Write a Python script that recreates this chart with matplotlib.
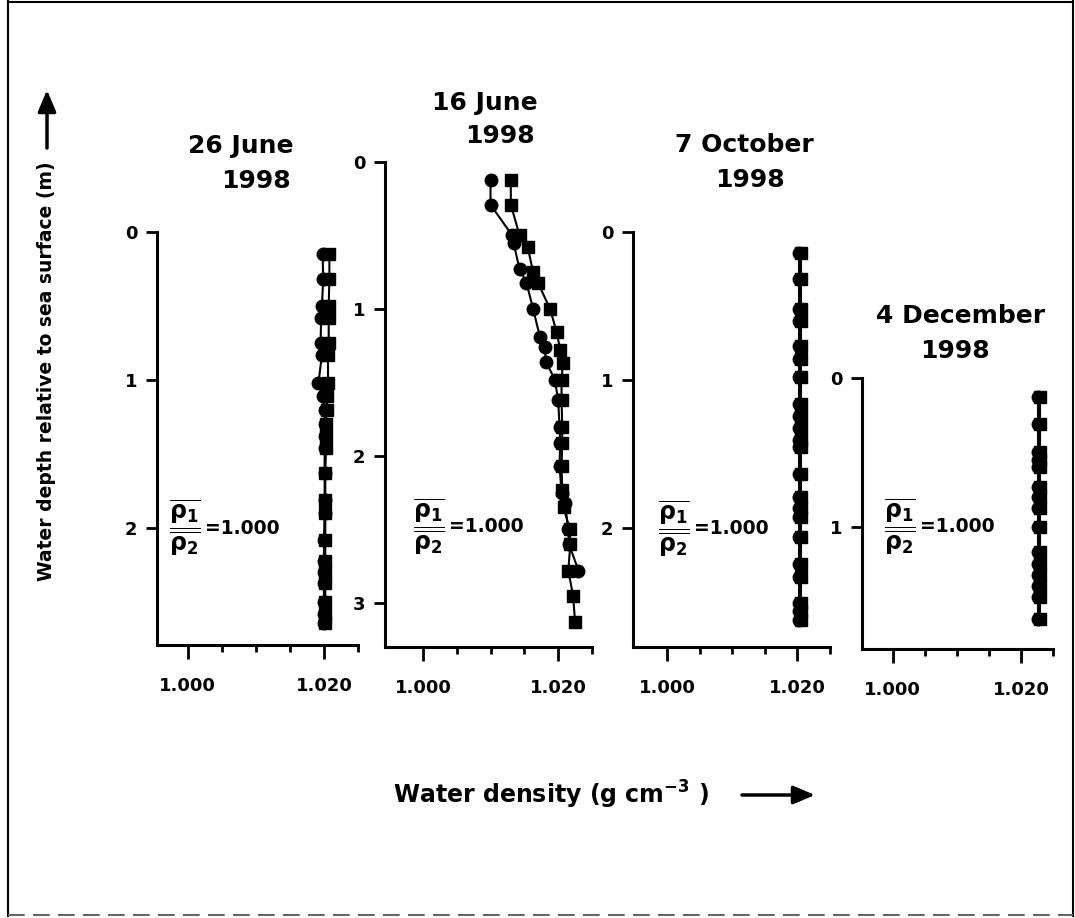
import matplotlib
matplotlib.use("Agg")
import matplotlib.pyplot as plt

plt.rcParams['font.family'] = 'DejaVu Sans'
plt.rcParams['font.weight'] = 'bold'
plt.rcParams['mathtext.default'] = 'regular'

W, H = 1075, 918

# --- data (depth in m, density in g cm-3) ---
titles = [["26 June", "1998"], ["16 June", "1998"], ["7 October", "1998"], ["4 December", "1998"]]

jun26_depth = [0.15, 0.32, 0.50, 0.58, 0.75, 0.83, 1.02, 1.11, 1.20, 1.30, 1.38,
               1.46, 1.63, 1.81, 1.90, 2.08, 2.22, 2.30, 2.37, 2.50, 2.58, 2.64]
jun26_circ = [1.0198, 1.0199, 1.0197, 1.0196, 1.0195, 1.0197, 1.0192, 1.0198, 1.0201, 1.0201, 1.0201,
              1.0201, 1.0201, 1.0201, 1.0201, 1.0200, 1.0200, 1.0200, 1.0200, 1.0200, 1.0200, 1.0200]
jun26_sq = [1.0208, 1.0208, 1.0207, 1.0207, 1.0207, 1.0206, 1.0206, 1.0205, 1.0204, 1.0203, 1.0203,
            1.0203, 1.0202, 1.0202, 1.0202, 1.0202, 1.0202, 1.0202, 1.0202, 1.0202, 1.0202, 1.0202]

jun16_depth_c = [0.12, 0.29, 0.50, 0.55, 0.73, 0.82, 1.00, 1.19, 1.26, 1.36, 1.48,
                 1.62, 1.80, 1.91, 2.07, 2.25, 2.32, 2.50, 2.60, 2.78]
jun16_circ = [1.0100, 1.0100, 1.0132, 1.0134, 1.0143, 1.0153, 1.0163, 1.0173, 1.0180, 1.0182, 1.0195,
              1.0200, 1.0202, 1.0203, 1.0202, 1.0205, 1.0210, 1.0215, 1.0216, 1.0230]
jun16_depth_s = [0.12, 0.29, 0.50, 0.58, 0.75, 0.82, 1.00, 1.16, 1.28, 1.37, 1.48,
                 1.62, 1.80, 1.91, 2.07, 2.23, 2.35, 2.50, 2.60, 2.78, 2.95, 3.13]
jun16_sq = [1.0130, 1.0130, 1.0143, 1.0155, 1.0163, 1.0170, 1.0188, 1.0198, 1.0203, 1.0207, 1.0205,
            1.0205, 1.0206, 1.0206, 1.0205, 1.0206, 1.0208, 1.0217, 1.0218, 1.0215, 1.0222, 1.0225]

oct7_depth = [0.14, 0.32, 0.52, 0.60, 0.77, 0.86, 0.98, 1.16, 1.24, 1.32, 1.40,
              1.45, 1.63, 1.79, 1.86, 1.92, 2.06, 2.24, 2.33, 2.50, 2.56, 2.62]
oct7_circ = [1.0203] * 22
oct7_sq = [1.0205] * 22

dec4_depth = [0.13, 0.31, 0.50, 0.55, 0.60, 0.73, 0.80, 0.87, 1.00, 1.17, 1.25, 1.32, 1.40, 1.47, 1.62]
dec4_circ = [1.0227] * 15
dec4_sq = [1.0229] * 15

series = [
    (jun26_depth, jun26_circ, jun26_depth, jun26_sq),
    (jun16_depth_c, jun16_circ, jun16_depth_s, jun16_sq),
    (oct7_depth, oct7_circ, oct7_depth, oct7_sq),
    (dec4_depth, dec4_circ, dec4_depth, dec4_sq),
]
ratio_frac = r'$\dfrac{\overline{\rho_1}}{\overline{\rho_2}}$'
ratio_value = '=1.000'

# --- layout (pixels) ---
boxes = [(157, 232, 358, 645), (385, 162, 592, 647), (633, 232, 830, 647), (862, 378, 1053, 649)]
xlefts = [0.9955, 0.9944, 0.9948, 0.9952]
ybottoms = [2.79, 3.30, 2.80, 1.82]
yticks = [[0, 1, 2], [0, 1, 2, 3], [0, 1, 2], [0, 1]]
ratio_pos = [(0.9972, 2.0), (0.9985, 2.48), (0.9987, 2.0), (0.9986, 1.0)]
title_pos = [[(293, 153, 'right'), (291, 188, 'right')],
             [(538, 110, 'right'), (535, 143, 'right')],
             [(744, 152, 'center'), (750, 187, 'center')],
             [(961, 323, 'center'), (955, 358, 'center')]]

fig = plt.figure(figsize=(W / 100, H / 100), dpi=100)

over = fig.add_axes([0, 0, 1, 1])
over.set_xlim(0, W)
over.set_ylim(H, 0)
over.axis('off')

for i, (l, t, r, b) in enumerate(boxes):
    ax = fig.add_axes([l / W, 1 - b / H, (r - l) / W, (b - t) / H])
    dc, xc, ds, xs = series[i]
    ax.plot(xc, dc, '-o', color='k', ms=9, lw=1.5, clip_on=False)
    ax.plot(xs, ds, '-s', color='k', ms=8.5, lw=1.5, clip_on=False)
    ax.set_xlim(xlefts[i], 1.025)
    ax.set_ylim(ybottoms[i], 0)
    for s in ['top', 'right']:
        ax.spines[s].set_visible(False)
    for s in ['left', 'bottom']:
        ax.spines[s].set_linewidth(2.2)
    ax.set_xticks([1.000, 1.020])
    ax.set_xticklabels(['1.000', '1.020'])
    ax.set_xticks([1.005, 1.010, 1.015, 1.025], minor=True)
    ax.set_yticks(yticks[i])
    ax.tick_params(axis='x', which='major', length=10, width=2, pad=13, labelsize=13)
    ax.tick_params(axis='x', which='minor', length=5, width=2)
    ax.tick_params(axis='y', length=8, width=2, pad=6, labelsize=13)
    ax.patch.set_alpha(0)
    ax.text(ratio_pos[i][0], ratio_pos[i][1], ratio_frac, fontsize=17, fontweight='bold',
            ha='left', va='center')
    ax.annotate(ratio_value, xy=ratio_pos[i], xytext=(36, 0), textcoords='offset pixels',
                fontsize=13.5, fontweight='bold', ha='left', va='center')
    for (tx, ty, ha), line in zip(title_pos[i], titles[i]):
        over.text(tx, ty, line, fontsize=18, fontweight='bold', ha=ha, va='baseline')

# axis labels with arrows
over.text(47, 371, 'Water depth relative to sea surface (m)', rotation=90, fontsize=13.5,
          fontweight='bold', ha='center', va='center')
over.annotate('', xy=(47, 90), xytext=(47, 148),
              arrowprops=dict(arrowstyle='-|>,head_length=1.3,head_width=0.55', lw=2.5,
                              color='k', shrinkA=0, shrinkB=0))
over.text(393, 795, r'Water density (g cm$^{-3}$ )', fontsize=17, fontweight='bold',
          ha='left', va='center')
over.annotate('', xy=(815, 795), xytext=(742, 795),
              arrowprops=dict(arrowstyle='-|>,head_length=1.3,head_width=0.55', lw=2.5,
                              color='k', shrinkA=0, shrinkB=0))

# page frame
over.plot([8, 8], [0, 916], color='k', lw=1.5, clip_on=False)
over.plot([8, 1073], [2, 2], color='k', lw=1.5, clip_on=False)
over.plot([1073, 1073], [0, 916], color='k', lw=1.5, clip_on=False)
over.plot([8, 1073], [915, 915], color='0.4', lw=1.5, ls=(0, (8, 4)), clip_on=False)

fig.savefig('out.png', dpi=100)
